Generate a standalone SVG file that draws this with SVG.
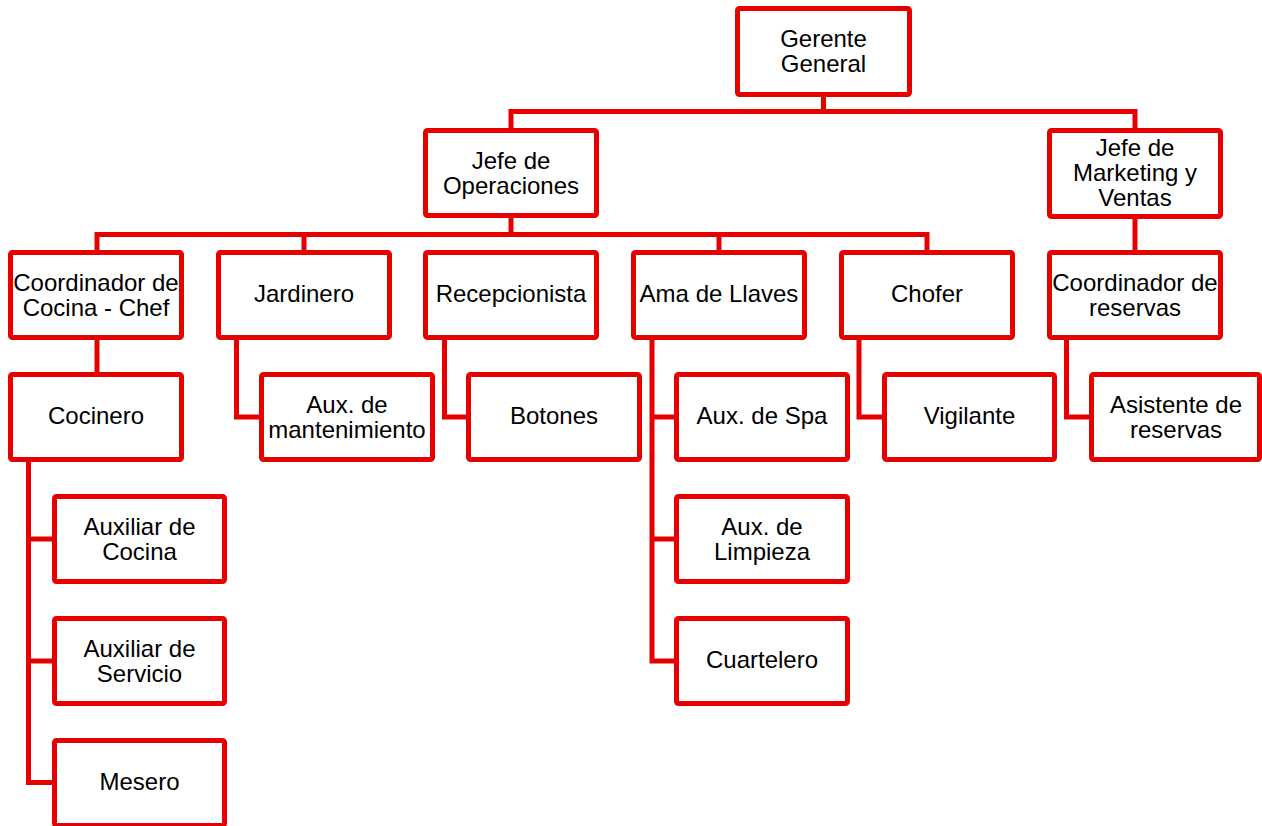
<svg xmlns="http://www.w3.org/2000/svg" width="1262" height="826" viewBox="0 0 1262 826">
<style>
.box{fill:#fff;stroke:#e60000;stroke-width:5;}
.ln{fill:none;stroke:#e60000;stroke-width:5;stroke-linejoin:miter;}
text{font-family:"Liberation Sans",Arial,sans-serif;font-size:24px;fill:#000;text-anchor:middle;}
</style>
<rect width="1262" height="826" fill="#fff"/>
<g id="connectors">
<path class="ln" d="M823.5 97V111.5M511 128V111.5H1135V128"/>
<path class="ln" d="M511 218V234.5M97 250V234.5H927V250M304 234.5V250M719 234.5V250"/>
<path class="ln" d="M1135 219V250"/>
<path class="ln" d="M97 340V372"/>
<path class="ln" d="M236.5 340V417H259"/>
<path class="ln" d="M444.5 340V417H466"/>
<path class="ln" d="M652 340V661H674M652 417H674M652 539H674"/>
<path class="ln" d="M859 340V417H882"/>
<path class="ln" d="M1066.5 340V417H1089"/>
<path class="ln" d="M28.5 462V782.5H52M28.5 539H52M28.5 661H52"/>
</g>
<g id="gerente"><rect class="box" x="737.5" y="8.5" width="172" height="86" rx="2"/><text x="823.5" y="46.5">Gerente</text><text x="823.5" y="71.5">General</text></g>
<g id="jefe-op"><rect class="box" x="425.5" y="130.5" width="171" height="85" rx="2"/><text x="511" y="168.5">Jefe de</text><text x="511" y="193.5">Operaciones</text></g>
<g id="jefe-mkt"><rect class="box" x="1049.5" y="130.5" width="171" height="86" rx="2"/><text x="1135" y="155.5">Jefe de</text><text x="1135" y="180.5">Marketing y</text><text x="1135" y="205.5">Ventas</text></g>
<g id="coord-cocina"><rect class="box" x="10.5" y="252.5" width="171" height="85" rx="2"/><text x="96" y="290.5">Coordinador de</text><text x="96" y="315.5">Cocina - Chef</text></g>
<g id="jardinero"><rect class="box" x="218.5" y="252.5" width="171" height="85" rx="2"/><text x="304" y="302">Jardinero</text></g>
<g id="recepcionista"><rect class="box" x="425.5" y="252.5" width="171" height="85" rx="2"/><text x="511" y="302">Recepcionista</text></g>
<g id="ama-llaves"><rect class="box" x="633.5" y="252.5" width="171" height="85" rx="2"/><text x="719" y="302">Ama de Llaves</text></g>
<g id="chofer"><rect class="box" x="841.5" y="252.5" width="171" height="85" rx="2"/><text x="927" y="302">Chofer</text></g>
<g id="coord-reservas"><rect class="box" x="1049.5" y="252.5" width="171" height="85" rx="2"/><text x="1135" y="290.5">Coordinador de</text><text x="1135" y="315.5">reservas</text></g>
<g id="cocinero"><rect class="box" x="10.5" y="374.5" width="171" height="85" rx="2"/><text x="96" y="424">Cocinero</text></g>
<g id="aux-mant"><rect class="box" x="261.5" y="374.5" width="171" height="85" rx="2"/><text x="347" y="412.5">Aux. de</text><text x="347" y="437.5">mantenimiento</text></g>
<g id="botones"><rect class="box" x="468.5" y="374.5" width="171" height="85" rx="2"/><text x="554" y="424">Botones</text></g>
<g id="aux-spa"><rect class="box" x="676.5" y="374.5" width="171" height="85" rx="2"/><text x="762" y="424">Aux. de Spa</text></g>
<g id="vigilante"><rect class="box" x="884.5" y="374.5" width="170" height="85" rx="2"/><text x="969.5" y="424">Vigilante</text></g>
<g id="asistente"><rect class="box" x="1091.5" y="374.5" width="168" height="85" rx="2"/><text x="1176" y="412.5">Asistente de</text><text x="1176" y="437.5">reservas</text></g>
<g id="aux-cocina"><rect class="box" x="54.5" y="496.5" width="170" height="85" rx="2"/><text x="139.5" y="534.5">Auxiliar de</text><text x="139.5" y="559.5">Cocina</text></g>
<g id="aux-servicio"><rect class="box" x="54.5" y="618.5" width="170" height="85" rx="2"/><text x="139.5" y="656.5">Auxiliar de</text><text x="139.5" y="681.5">Servicio</text></g>
<g id="mesero"><rect class="box" x="54.5" y="740.5" width="170" height="85" rx="2"/><text x="139.5" y="790">Mesero</text></g>
<g id="aux-limpieza"><rect class="box" x="676.5" y="496.5" width="171" height="85" rx="2"/><text x="762" y="534.5">Aux. de</text><text x="762" y="559.5">Limpieza</text></g>
<g id="cuartelero"><rect class="box" x="676.5" y="618.5" width="171" height="85" rx="2"/><text x="762" y="668">Cuartelero</text></g>
</svg>
